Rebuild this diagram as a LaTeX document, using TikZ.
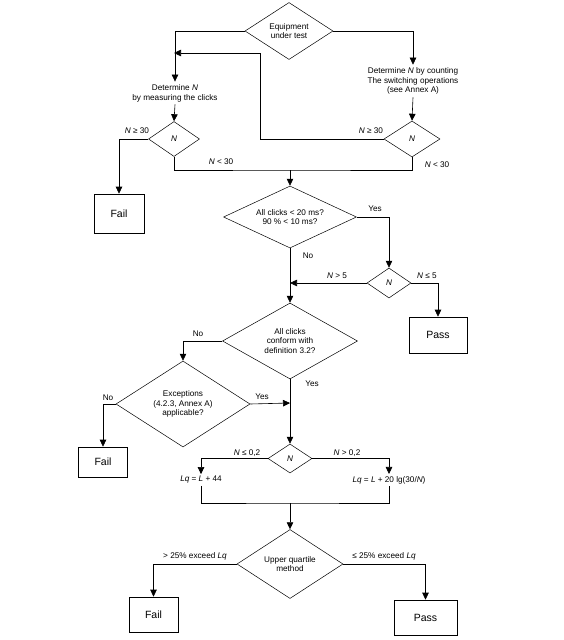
\documentclass[tikz,border=0pt]{standalone}
\usepackage{fontspec}
\setmainfont{Liberation Sans}
\usetikzlibrary{shapes.geometric,arrows.meta}
\begin{document}
\begin{tikzpicture}[x=1pt,y=-1pt,
  every node/.style={font=\fontsize{8.2}{9.8}\selectfont},
  dia/.style={draw,diamond,shape aspect=2,inner sep=0pt,align=center,line width=0.5pt},
  box/.style={draw,rectangle,inner sep=0pt,line width=0.6pt,font=\fontsize{10.5}{12}\selectfont},
  txt/.style={align=center,inner sep=2.5pt},
  lbl/.style={inner sep=0pt},
  ln/.style={line width=0.6pt},
  arr/.style={line width=0.6pt,-{Triangle[length=7pt,width=6.5pt]}}]
\useasboundingbox (0,0) rectangle (563,640);
% nodes
\node[dia,minimum width=88pt,minimum height=57pt] (eq) at (289,31) {Equipment\\under test};
\node[txt] (meas) at (175,93) {Determine \textit{N}\\by measuring the clicks};
\node[txt] (cnt) at (413,81) {Determine \textit{N} by counting\\The switching operations\\(see Annex A)};
\node[dia,minimum width=51pt,minimum height=35pt] (ldN) at (174,139) {\textit{N}};
\node[dia,minimum width=56pt,minimum height=36pt] (rdN) at (412,139) {\textit{N}};
\node[box,minimum width=50pt,minimum height=39pt] (fail1) at (119,213.5) {Fail};
\node[dia,minimum width=133pt,minimum height=62pt] (ac) at (290,217) {All clicks < 20 ms?\\90 \% < 10 ms?};
\node[dia,minimum width=44pt,minimum height=30pt] (sN) at (389,283) {\textit{N}};
\node[box,minimum width=58pt,minimum height=36pt] (pass1) at (438,335) {Pass};
\node[dia,minimum width=135pt,minimum height=76pt] (cf) at (290,341) {All clicks\\conform with\\definition 3.2?};
\node[dia,minimum width=134pt,minimum height=86pt] (ex) at (183,404) {Exceptions\\(4.2.3, Annex A)\\applicable?};
\node[box,minimum width=49pt,minimum height=30pt] (fail2) at (103,462) {Fail};
\node[dia,minimum width=44pt,minimum height=29pt] (nN) at (290,458.5) {\textit{N}};
\node[lbl,inner ysep=2pt] (lq1) at (201,480) {\textit{Lq} = \textit{L} + 44};
\node[lbl,inner ysep=2pt] (lq2) at (389,480) {\textit{Lq} = \textit{L} + 20 lg(30/\textit{N})};
\node[dia,minimum width=106pt,minimum height=69pt] (uq) at (290,564) {Upper quartile\\method};
\node[box,minimum width=49pt,minimum height=35pt] (fail3) at (153.5,614.5) {Fail};
\node[box,minimum width=63pt,minimum height=35pt] (pass3) at (425.5,617.5) {Pass};
% coordinates
\coordinate (loopc) at (260,53);
\coordinate (loopt) at (174,53);
\coordinate (j1) at (290,170);
\coordinate (j2) at (290,283);
\coordinate (j3) at (290,403);
\coordinate (j4) at (290,503);
% connectors
\draw[arr] (eq.west) -| (meas.north);
\draw[arr] (eq.east) -| (cnt.north);
\draw[arr] (meas.south) -- (ldN.north);
\draw[arr] (cnt.south) -- (rdN.north);
\draw[arr] (ldN.west) -| (fail1.north);
\draw[arr] (rdN.west) -| (loopc) -- (loopt);
\draw[ln] (ldN.south) |- (j1) -| (rdN.south);
\draw[arr] (j1) -- (ac.north);
\draw[arr] (ac.east) -| (sN.north);
\draw[arr] (sN.west) -- (j2);
\draw[arr] (sN.east) -| (pass1.north);
\draw[arr] (ac.south) -- (cf.north);
\draw[arr] (cf.west) -| (ex.north);
\draw[arr] (ex.west) -| (fail2.north);
\draw[arr] (ex.east) -- (j3);
\draw[arr] (cf.south) -- (nN.north);
\draw[arr] (nN.west) -| (lq1.north);
\draw[arr] (nN.east) -| (lq2.north);
\draw[ln] (lq1.south) |- (j4) -| (lq2.south);
\draw[arr] (j4) -- (uq.north);
\draw[arr] (uq.west) -| (fail3.north);
\draw[arr] (uq.east) -| (pass3.north);
% labels
\node[lbl] (l1) at (137,131) {\textit{N} ≥ 30};
\node[lbl] (l2) at (221,162) {\textit{N} < 30};
\node[lbl] (l3) at (371,131) {\textit{N} ≥ 30};
\node[lbl] (l4) at (437,165) {\textit{N} < 30};
\node[lbl] (l5) at (375,209) {Yes};
\node[lbl] (l6) at (308,256) {No};
\node[lbl] (l7) at (337,276) {\textit{N} > 5};
\node[lbl] (l8) at (427,276) {\textit{N} ≤ 5};
\node[lbl] (l9) at (198,334) {No};
\node[lbl] (l10) at (312,384) {Yes};
\node[lbl] (l11) at (108,398) {No};
\node[lbl] (l12) at (262,397) {Yes};
\node[lbl] (l13) at (247,453) {\textit{N} ≤ 0,2};
\node[lbl] (l14) at (347,453) {\textit{N} > 0,2};
\node[lbl] (l15) at (195,556) {> 25\% exceed \textit{Lq}};
\node[lbl] (l16) at (384,556) {≤ 25\% exceed \textit{Lq}};
\end{tikzpicture}
\end{document}
